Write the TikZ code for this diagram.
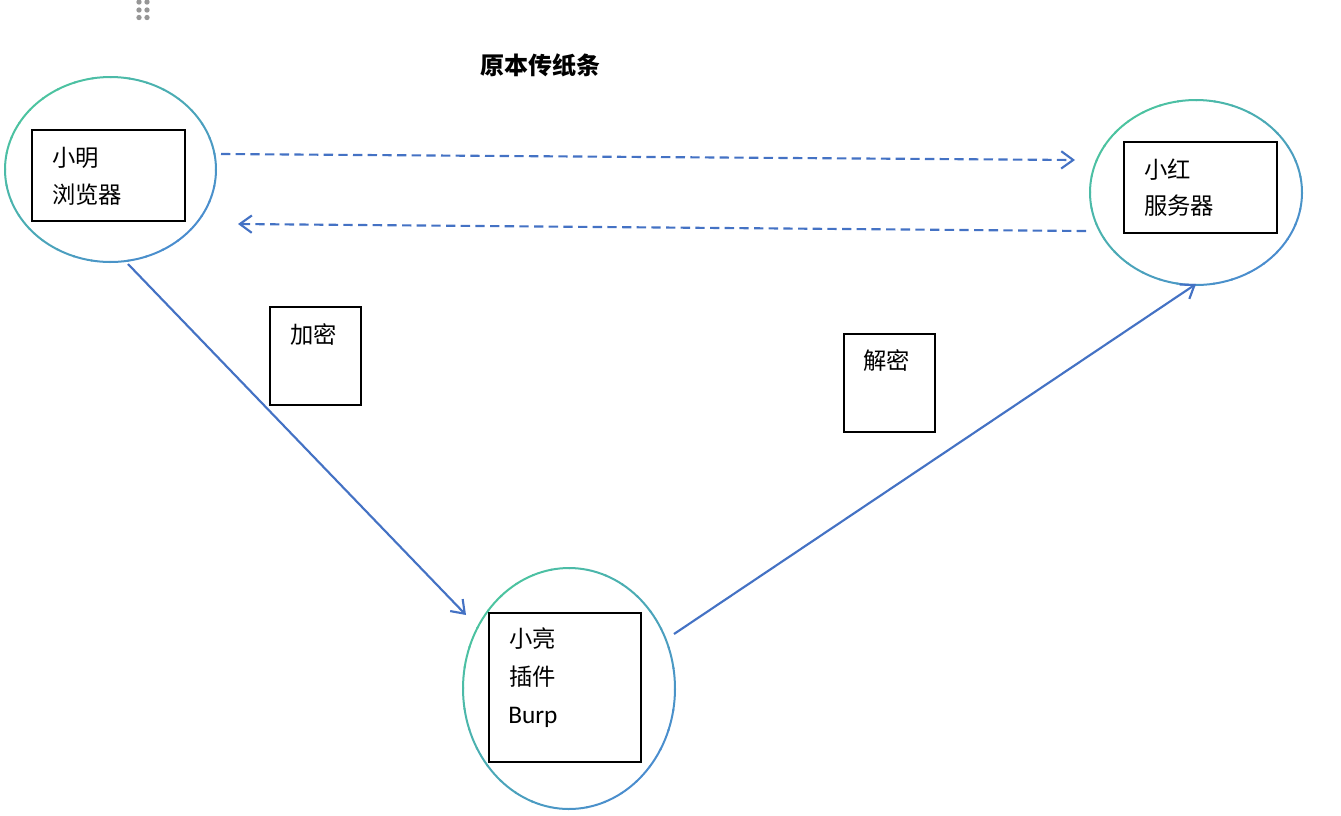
\documentclass[tikz,border=0pt]{standalone}
\usepackage{fontspec}
\setmainfont{Carlito}
\newfontfamily\cjk{Noto Sans CJK SC}
\usetikzlibrary{shapes.geometric,arrows.meta}
\definecolor{ringA}{RGB}{76,196,160}
\definecolor{ringB}{RGB}{74,140,206}
\definecolor{arrowblue}{RGB}{68,114,196}
\definecolor{dotgrey}{RGB}{150,150,150}
\newcommand\gradring[3]{%
  \foreach \a in {0,10,...,350}{%
    \pgfmathsetmacro\tt{int(round(50*(1-cos(\a+5-225))))}%
    \draw[ringline,draw=ringB!\tt!ringA] ([shift={(\a:#2 and #3)}]#1.center)
      arc[start angle=\a,end angle=\a+10.5,x radius=#2,y radius=#3];
  }%
}
\begin{document}
\begin{tikzpicture}[x=0.75pt,y=-0.75pt,
  ringline/.style={line width=1.5pt,line cap=round},
  ring/.style={ellipse,draw=none,inner sep=0pt,outer sep=0pt},
  box/.style={rectangle,draw=black,line width=1.3pt,inner sep=0pt,outer sep=0pt,fill=white},
  lbl/.style={anchor=west,inner sep=0pt,font=\cjk\fontsize{17.5}{20}\selectfont},
  burp/.style={anchor=west,inner sep=0pt,font=\fontsize{19}{22}\selectfont},
  flow/.style={draw=arrowblue,line width=1.6pt,-{Straight Barb[length=9pt,width=13pt,line width=1.6pt]}},
  dflow/.style={flow,dash pattern=on 7pt off 4pt},
  dot/.style={circle,fill=dotgrey,inner sep=0pt,minimum size=4pt}]
\useasboundingbox (0,0) rectangle (1341,815);
% drag handle dots
\node[dot] (d1) at (139,2) {};
\node[dot] (d2) at (147,2) {};
\node[dot] (d3) at (139,10) {};
\node[dot] (d4) at (147,10) {};
\node[dot] (d5) at (139,17.5) {};
\node[dot] (d6) at (147,17.5) {};
% title
\node[inner sep=0pt,font=\cjk\bfseries\fontsize{18}{20}\selectfont] (title) at (540,65) {原本传纸条};
% ellipses
\node[ring,minimum width=211*0.75pt,minimum height=185*0.75pt] (eA) at (110.5,169.5) {};
\node[ring,minimum width=212*0.75pt,minimum height=185*0.75pt] (eC) at (1196,192.5) {};
\node[ring,minimum width=212*0.75pt,minimum height=241*0.75pt] (eB) at (569,688.5) {};
\gradring{eA}{105.5}{92.5}
\gradring{eC}{106}{92.5}
\gradring{eB}{106}{120.5}
% boxes
\node[box,minimum width=153*0.75pt,minimum height=91*0.75pt] (bA) at (108.5,175.5) {};
\node[box,minimum width=153*0.75pt,minimum height=91*0.75pt] (bC) at (1200.5,187.5) {};
\node[box,minimum width=152*0.75pt,minimum height=149*0.75pt] (bB) at (565,687.5) {};
\node[box,minimum width=91*0.75pt,minimum height=98*0.75pt] (bEnc) at (315.5,356) {};
\node[box,minimum width=91*0.75pt,minimum height=98*0.75pt] (bDec) at (889.5,383) {};
% texts
\node[lbl] (tA1) at ([shift={(20,28)}]bA.north west) {小明};
\node[lbl] (tA2) at ([shift={(20,65)}]bA.north west) {浏览器};
\node[lbl] (tC1) at ([shift={(20,28)}]bC.north west) {小红};
\node[lbl] (tC2) at ([shift={(20,64)}]bC.north west) {服务器};
\node[lbl] (tB1) at ([shift={(20,26)}]bB.north west) {小亮};
\node[lbl] (tB2) at ([shift={(20,64)}]bB.north west) {插件};
\node[burp] (tB3) at ([shift={(19,104)}]bB.north west) {Burp};
\node[lbl] (tEnc) at ([shift={(20,28)}]bEnc.north west) {加密};
\node[lbl] (tDec) at ([shift={(19,27)}]bDec.north west) {解密};
% connectors
\draw[dflow] ([shift={(5,-15.5)}]eA.east) -- ([shift={(-15,-32.5)}]eC.west);
\draw[dflow] ([shift={(-4,38.5)}]eC.west) -- ([shift={(22,54.5)}]eA.east);
\draw[flow] ([shift={(17.5,2)}]eA.south) -- ([shift={(-103,47)}]eB.north);
\draw[flow] ([shift={(-1,-54.5)}]eB.east) -- ([shift={(0,-1)}]eC.south);
\end{tikzpicture}
\end{document}
